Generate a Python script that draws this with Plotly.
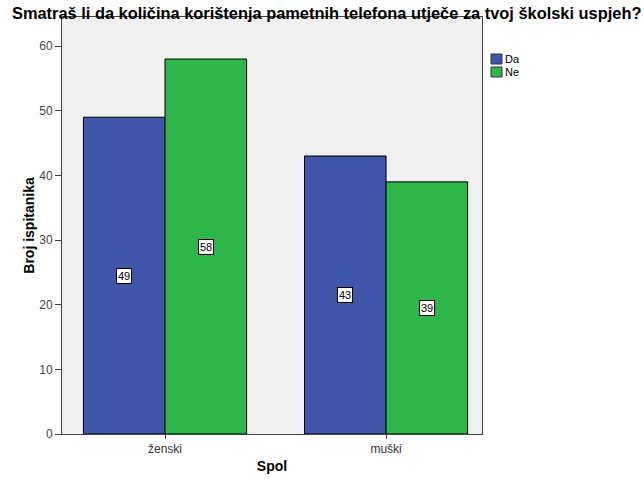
import plotly.graph_objects as go

categories = ["ženski", "muški"]
series_names = ["Da", "Ne"]
da_values = [49, 43]
ne_values = [58, 39]
colors = ["#3F56AA", "#2FB64A"]

FONT = "Liberation Sans, Arial, sans-serif"
bargap = 0.262
group_w = 1 - bargap

W, H = 644, 479
L, R, T, B = 62, 162, 17, 45
PW, PH = W - L - R, H - T - B


def px_to_paper(px, py):
    return (px - L) / PW, (H - B - py) / PH


fig = go.Figure()
for name, vals, col in zip(series_names, [da_values, ne_values], colors):
    fig.add_trace(go.Bar(
        x=categories, y=vals, name=name,
        marker=dict(color=col, line=dict(color="#000000", width=1)),
        hoverinfo="x+y+name", showlegend=False,
    ))

annotations = []
for si, vals in enumerate([da_values, ne_values]):
    offset = (-1 if si == 0 else 1) * group_w / 4
    for ci, v in enumerate(vals):
        annotations.append(dict(
            x=ci + offset, y=v / 2, xref="x", yref="y",
            text=str(v), showarrow=False,
            font=dict(family=FONT, size=11, color="#000000"),
            bgcolor="#FFFFFF", bordercolor="#000000", borderwidth=1, borderpad=1,
        ))

# legend drawn manually (compact SPSS-style)
shapes = []
for i, (name, col) in enumerate(zip(series_names, colors)):
    top = 54 + i * 13
    x0, y0 = px_to_paper(491, top + 10)
    x1, y1 = px_to_paper(502, top)
    shapes.append(dict(type="rect", xref="paper", yref="paper", x0=x0, y0=y0, x1=x1, y1=y1,
                       fillcolor=col, line=dict(color="#333333", width=1)))
    tx, ty = px_to_paper(503, top + 5)
    annotations.append(dict(x=tx, y=ty, xref="paper", yref="paper", text=name,
                            showarrow=False, xanchor="left", yanchor="middle",
                            font=dict(family=FONT, size=11, color="#000000")))

fig.update_layout(
    width=W, height=H,
    margin=dict(l=L, r=R, t=T, b=B),
    paper_bgcolor="#FFFFFF", plot_bgcolor="#F0F0F0",
    barmode="group", bargap=bargap, bargroupgap=0,
    title=dict(text="<b>Smatraš li da količina korištenja pametnih telefona utječe za tvoj školski uspjeh?</b>",
               xref="container", yref="container",
               x=12 / W, xanchor="left", y=1 - 13 / H, yanchor="middle",
               font=dict(family=FONT, size=16.4, color="#000000")),
    font=dict(family=FONT, color="#000000"),
    xaxis=dict(
        type="category", range=[-0.466, 1.434], automargin=False,
        showline=True, linecolor="#444444", linewidth=1, mirror=True,
        ticks="outside", ticklen=4, tickcolor="#444444",
        tickfont=dict(size=12, color="#333333"),
        title=dict(text="<b>Spol</b>", font=dict(size=14, color="#000000"), standoff=5),
        showgrid=False, zeroline=False,
    ),
    yaxis=dict(
        range=[0, 64.5], automargin=False,
        tickvals=[0, 10, 20, 30, 40, 50, 60],
        showline=True, linecolor="#444444", linewidth=1, mirror=True,
        ticks="outside", ticklen=6, tickcolor="#444444",
        tickfont=dict(size=12, color="#444444"),
        title=dict(text="<b>Broj ispitanika</b>", font=dict(size=14, color="#000000"), standoff=1),
        showgrid=False, zeroline=False,
    ),
    annotations=annotations,
    shapes=shapes,
    showlegend=False,
)

fig.write_html("out.html", config={"displayModeBar": False},
               post_script="document.body.style.margin='0';")
